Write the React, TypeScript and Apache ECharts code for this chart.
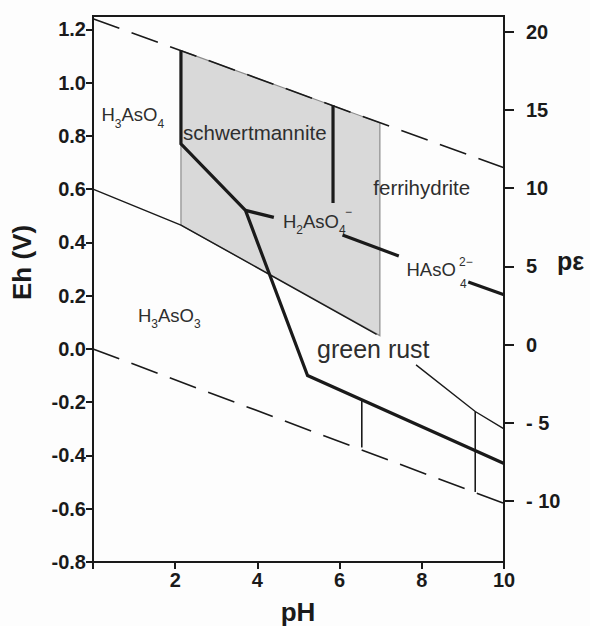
import React, { useEffect, useRef } from "react";
import * as echarts from "echarts";

// Axis ticks
const pHTicks = [0, 2, 4, 6, 8, 10];
const ehTicks = [-0.8, -0.6, -0.4, -0.2, 0, 0.2, 0.4, 0.6, 0.8, 1.0, 1.2];
const peTicks = [-10, -5, 0, 5, 10, 15, 20];

// Water stability limits (dashed)
const upperWaterLimit = [[0, 1.24], [10, 0.68]];
const lowerWaterLimit = [[0, 0.0], [10, -0.58]];

// As(V)/As(III) boundary (thin)
const arsenicRedoxLine = [[0, 0.6], [2.14, 0.465], [6.9, 0.055]];
const greenRustLine = [[7.86, -0.06], [9.3, -0.235], [10, -0.3]];

// Iron phase boundary (thick)
const ironBoundary = [[2.14, 1.12], [2.14, 0.77], [3.71, 0.52], [5.22, -0.1], [10, -0.43]];
const h2aso4Branch = [[3.71, 0.52], [4.4, 0.494]];
const h3aso4H2aso4Line = [[5.84, 0.915], [5.84, 0.548]];
const h2aso4Haso4LineA = [[6.07, 0.428], [7.44, 0.349]];
const h2aso4Haso4LineB = [[9.13, 0.251], [10, 0.203]];

// Thin vertical lines in green-rust field
const greenRustVertA = [[6.54, -0.19], [6.54, -0.37]];
const greenRustVertB = [[9.3, -0.235], [9.3, -0.537]];

// Schwertmannite field (shaded)
const schwertmanniteField = [[2.14, 1.12], [6.98, 0.849], [6.98, 0.05], [2.14, 0.465]];

const FONT = "'Liberation Sans', Arial, 'Helvetica', sans-serif";
const INK = "#1a1a1a";
const LABEL = "#2e2e2e";

function seg(data: number[][], width: number, opts: any = {}) {
  return {
    type: "line",
    data,
    symbol: "none",
    showSymbol: false,
    silent: true,
    z: opts.z ?? 3,
    lineStyle: {
      width,
      color: opts.color ?? INK,
      type: opts.type ?? "solid",
      cap: "butt",
      join: "miter",
    },
  };
}

function formula(x: number, y: number, parts: [string, boolean][], size = 18.5, sub = 12) {
  const text = parts.map(([t, s]) => (s ? `{s|${t}}` : `{m|${t}}`)).join("");
  return {
    type: "text",
    x,
    y,
    z: 100,
    silent: true,
    style: {
      text,
      align: "left",
      verticalAlign: "middle",
      rich: {
        m: { fontSize: size, fontFamily: FONT, fill: LABEL, lineHeight: 30 },
        s: { fontSize: sub, fontFamily: FONT, fill: LABEL, verticalAlign: "bottom" },
      },
    },
  };
}

function plain(x: number, y: number, text: string, size: number, extra: any = {}) {
  return {
    type: "text",
    x,
    y,
    z: 100,
    silent: true,
    rotation: extra.rotation ?? 0,
    style: {
      text,
      fontSize: size,
      fontFamily: FONT,
      fontWeight: extra.bold ? "bold" : "normal",
      fill: extra.fill ?? LABEL,
      align: extra.align ?? "left",
      verticalAlign: "middle",
    },
  };
}

export default function App() {
  const ref = useRef<HTMLDivElement>(null);
  useEffect(() => {
    if (!ref.current) return;
    const chart = echarts.init(ref.current, null, { renderer: "svg" });
    const tickFont = { fontSize: 20, fontWeight: "bold", fontFamily: FONT, color: INK };
    const option: any = {
      animation: false,
      backgroundColor: "#fdfdfd",
      grid: {
        left: 93,
        right: 86,
        top: 16,
        bottom: 64,
        show: true,
        borderColor: INK,
        borderWidth: 2,
        backgroundColor: "transparent",
      },
      xAxis: {
        type: "value",
        min: 0,
        max: 10,
        interval: 2,
        axisLine: { show: true, onZero: false, lineStyle: { color: INK, width: 2 } },
        axisTick: { show: true, length: 7, inside: false, lineStyle: { color: INK, width: 2 }, customValues: pHTicks },
        axisLabel: {
          ...tickFont,
          customValues: pHTicks,
          formatter: (v: number) => (v === 0 ? "" : String(v)),
          margin: 8,
        },
        splitLine: { show: false },
      },
      yAxis: [
        {
          type: "value",
          min: -0.8,
          max: 1.25,
          position: "left",
          axisLine: { show: true, onZero: false, lineStyle: { color: INK, width: 2 } },
          axisTick: { show: true, length: 7, lineStyle: { color: INK, width: 2 }, customValues: ehTicks },
          axisLabel: {
            ...tickFont,
            customValues: ehTicks,
            formatter: (v: number) => v.toFixed(1),
            margin: 7,
          },
          splitLine: { show: false },
        },
        {
          type: "value",
          min: -13.9,
          max: 21.0,
          position: "right",
          axisLine: { show: true, onZero: false, lineStyle: { color: INK, width: 2 } },
          axisTick: { show: true, length: 10, lineStyle: { color: INK, width: 2 }, customValues: peTicks },
          axisLabel: {
            ...tickFont,
            customValues: peTicks,
            formatter: (v: number) => (v < 0 ? "- " + Math.abs(v) : String(v)),
            margin: 22,
          },
          splitLine: { show: false },
        },
      ],
      series: [
        {
          type: "custom",
          silent: true,
          z: 1,
          data: [schwertmanniteField[0]],
          renderItem: (_p: any, api: any) => ({
            type: "polygon",
            shape: { points: schwertmanniteField.map((pt) => api.coord(pt)) },
            style: { fill: "#d9d9d9", stroke: "#8c8c8c", lineWidth: 1.2 },
          }),
        },
        seg(upperWaterLimit, 1.6, { type: [28, 13] }),
        seg(lowerWaterLimit, 1.6, { type: [28, 13] }),
        seg(arsenicRedoxLine, 1.4),
        seg(greenRustLine, 1.4),
        seg(greenRustVertA, 1.6),
        seg(greenRustVertB, 1.6),
        seg(ironBoundary, 3.2, { z: 4 }),
        seg(h2aso4Branch, 3.2, { z: 4 }),
        seg(h3aso4H2aso4Line, 3.2, { z: 4 }),
        seg(h2aso4Haso4LineA, 3.2, { z: 4 }),
        seg(h2aso4Haso4LineB, 3.2, { z: 4 }),
      ],
      graphic: [
        formula(101.5, 114.6, [["H", false], ["3", true], ["AsO", false], ["4", true]]),
        formula(138, 315.3, [["H", false], ["3", true], ["AsO", false], ["3", true]]),
        formula(283, 221, [["H", false], ["2", true], ["AsO", false], ["4", true]]),
        plain(345, 212, "−", 12),
        plain(406.5, 269.6, "HAsO", 18.5),
        plain(460, 284, "4", 12),
        plain(459, 262, "2−", 12),
        plain(183, 132.9, "schwertmannite", 20.5),
        plain(373.3, 187.9, "ferrihydrite", 20.5),
        plain(317, 348.6, "green rust", 25),
        plain(22, 262.5, "Eh (V)", 26, { bold: true, align: "center", rotation: Math.PI / 2, fill: INK }),
        plain(298, 612, "pH", 26, { bold: true, align: "center", fill: INK }),
        plain(557, 261.3, "pε", 25, { bold: true, fill: INK }),
      ],
    };
    chart.setOption(option);
    return () => chart.dispose();
  }, []);
  return (
    <div
      ref={ref}
      style={{ position: "absolute", left: 0, top: 0, width: 590, height: 626, background: "#fdfdfd" }}
    />
  );
}
